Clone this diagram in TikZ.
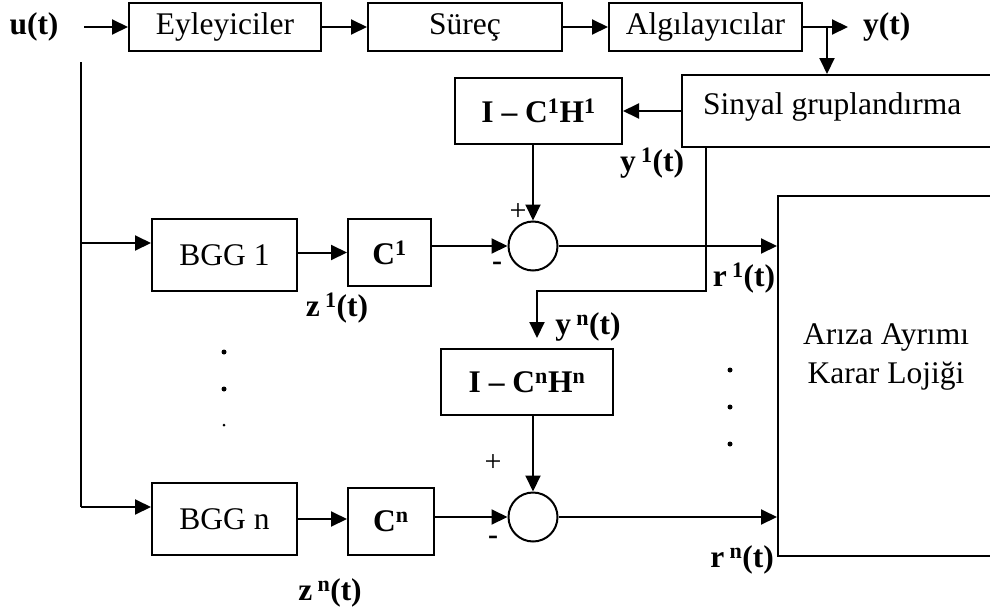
\documentclass[tikz,border=0pt]{standalone}
\usepackage{fontspec}
\setmainfont{Liberation Serif}
\usetikzlibrary{arrows.meta,calc}
\begin{document}
\begin{tikzpicture}[x=1pt,y=-1pt,
 every node/.style={font=\fontsize{31.5}{39}\selectfont},
 box/.style={draw,line width=2pt,rectangle,inner sep=0pt},
 arr/.style={line width=2pt,-{Triangle[length=16pt,width=15pt]}},
 ln/.style={line width=2pt},
 lbl/.style={font=\fontsize{31.5}{36}\selectfont\bfseries,inner sep=0pt},
 sgn/.style={font=\fontsize{30}{32}\selectfont,inner sep=0pt},
 sumc/.style={draw,circle,line width=2pt,minimum size=49pt,inner sep=0pt}]
\useasboundingbox (0,0) rectangle (990,613);
\clip (0,0) rectangle (990,613);

% top chain
\node[lbl] (u) at (34,27) {u(t)};
\coordinate (us) at (84,27);
\node[box,minimum width=192pt,minimum height=48pt] (eyl) at (225,27) {Eyleyiciler};
\node[box,minimum width=194pt,minimum height=48pt] (sur) at (465,27) {Süreç};
\node[box,minimum width=193pt,minimum height=48pt] (alg) at (705.5,27) {Algılayıcılar};
\coordinate (ye) at (848,27);
\coordinate (yb) at (827,27);
\node[lbl,anchor=west] (y) at (863,27) {y(t)};
\node[box,minimum width=328pt,minimum height=72pt] (sg) at (846,111) {};
\node[anchor=west,inner sep=0pt] (sgt) at (703,107) {Sinyal gruplandırma};

\draw[arr] (us) -- (eyl.west);
\draw[arr] (eyl.east) -- (sur.west);
\draw[arr] (sur.east) -- (alg.west);
\draw[arr] (alg.east) -- (ye);
\draw[arr] (yb) -- (yb |- sg.north);

% branch 1
\node[box,minimum width=167pt,minimum height=66pt] (ich1) at (538.5,111) {\bfseries I – C\textsuperscript{1}H\textsuperscript{1}};
\draw[arr] (sg.west) -- (ich1.east);
\node[lbl] (y1) at (652,163) {y\,\textsuperscript{1}(t)};

\node[box,minimum width=145pt,minimum height=72pt] (bgg1) at (224.5,255) {BGG 1};
\node[box,minimum width=83pt,minimum height=67pt] (c1) at (389.5,252.5) {\bfseries C\textsuperscript{1}};
\node[sumc] (s1) at (533,246) {};
\node[lbl] (z1) at (337,308) {z\,\textsuperscript{1}(t)};
\node[sgn] (p1) at (518,212) {+};
\node[sgn,font=\fontsize{30}{32}\selectfont\bfseries] (m1) at (497,266) {-};

% branch n
\node[box,minimum width=172pt,minimum height=66pt] (ichn) at (527,382) {\bfseries I – C\textsuperscript{n}H\textsuperscript{n}};
\node[lbl] (yn) at (588,327) {y\,\textsuperscript{n}(t)};
\node[box,minimum width=145pt,minimum height=72pt] (bggn) at (224.5,519) {BGG n};
\node[box,minimum width=86pt,minimum height=67pt] (cn) at (391,521.5) {\bfseries C\textsuperscript{n}};
\node[sumc] (s2) at (533,517) {};
\node[lbl] (zn) at (330,593) {z\,\textsuperscript{n}(t)};
\node[sgn] (p2) at (493,463) {+};
\node[sgn,font=\fontsize{30}{32}\selectfont\bfseries] (m2) at (493,540) {-};

% decision box
\node[box,minimum width=233pt,minimum height=360pt,anchor=north west] (kar) at (777,195) {};
\node[align=center,inner sep=0pt] (kart) at (886,357) {Arıza Ayrımı\\Karar Lojiği};
\node[lbl] (r1) at (744,278) {r\,\textsuperscript{1}(t)};
\node[lbl] (rn) at (742,560) {r\,\textsuperscript{n}(t)};

% left bus
\coordinate (bt) at (81,62);
\coordinate (b1) at (81,243);
\coordinate (bn) at (81,507);
\draw[ln] (bt) -- (bn);
\draw[arr] (b1) -- (b1 -| bgg1.west);
\draw[arr] (bn) -- (bn -| bggn.west);

% branch 1 connectors
\draw[arr] (bgg1.east |- c1) -- (c1.west);
\draw[arr] (c1.east |- s1) -- (s1.west);
\draw[arr] (s1.north |- ich1.south) -- (s1.north);
\draw[arr] (s1.east) -- (s1 -| kar.west);

% sg to branch n
\coordinate (sgb) at (706,147);
\coordinate (k1) at (706,291);
\coordinate (k2) at (537,291);
\draw[arr,shorten >=10pt] (sgb) -- (k1) -- (k2) -- (k2 |- ichn.north);

% branch n connectors
\draw[arr] (bggn.east) -- (bggn.east -| cn.west);
\draw[arr] (cn.east |- s2) -- (s2.west);
\draw[arr] (s2.north |- ichn.south) -- (s2.north);
\draw[arr] (s2.east) -- (s2 -| kar.west);

% dots
\fill (224,352) circle (2.5);
\fill (224,389) circle (2.5);
\fill (224,425) circle (1.5);
\fill (730,370) circle (2.5);
\fill (730,407) circle (2.5);
\fill (730,444) circle (2.5);
\end{tikzpicture}
\end{document}
